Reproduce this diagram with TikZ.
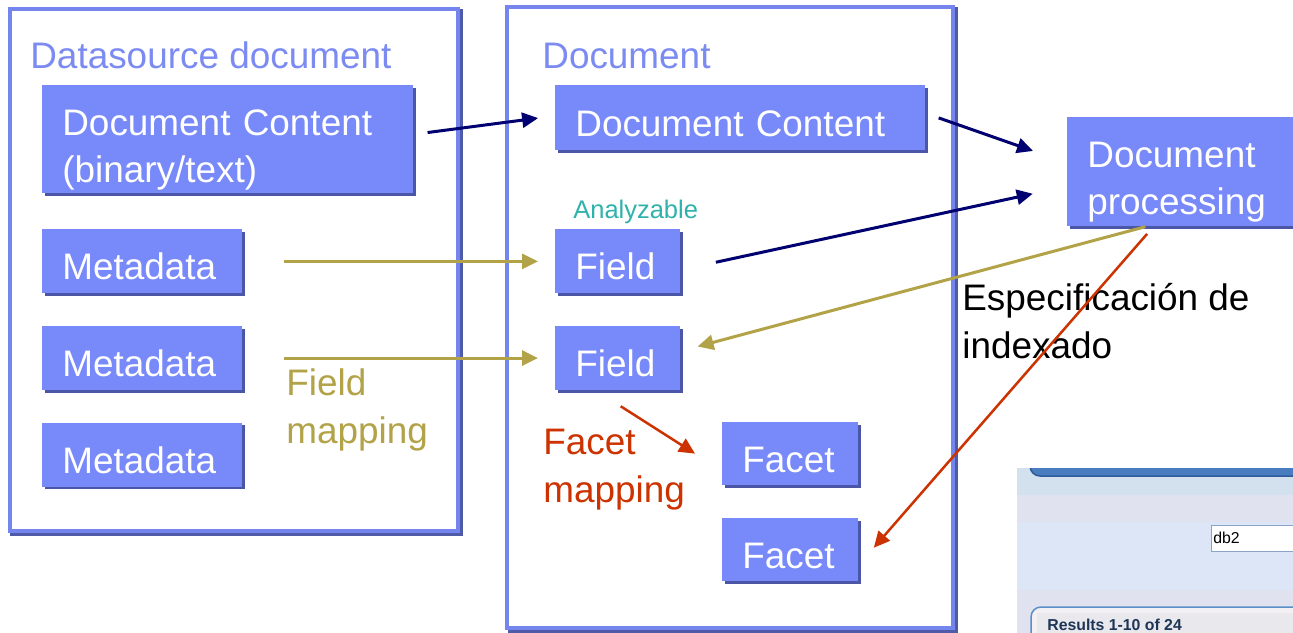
\documentclass[tikz,border=0pt]{standalone}
\usepackage{fontspec}
\setmainfont{Liberation Sans}
\usepackage{xcolor}
\usetikzlibrary{arrows.meta, positioning, shadows}

\definecolor{boxblue}{HTML}{7889F9}
\definecolor{boxshade}{HTML}{4B56A6}
\definecolor{framelight}{HTML}{7485EE}
\definecolor{frameshade}{HTML}{4F5AA8}
\definecolor{titleblue}{HTML}{7B8BF2}
\definecolor{navyarrow}{HTML}{000070}
\definecolor{olivemap}{HTML}{B2A248}
\definecolor{redmap}{HTML}{CC3300}
\definecolor{tealtxt}{HTML}{30B2AC}
\definecolor{shotbg}{HTML}{DEE5F3}
\definecolor{shotband}{HTML}{D3E0EE}
\definecolor{shotmid}{HTML}{E0E3EF}
\definecolor{shotlow}{HTML}{DCE6F7}
\definecolor{shotbar}{HTML}{4A7CC0}
\definecolor{shotbarline}{HTML}{2D5C9A}
\definecolor{inputline}{HTML}{8AA4C8}
\definecolor{panelbg}{HTML}{F2F0F2}
\definecolor{panelline}{HTML}{5B8DC6}
\definecolor{panelhead}{HTML}{E9E8EC}
\definecolor{resultstxt}{HTML}{1D3557}

\newcommand{\bigtxt}{\fontsize{21}{27}\selectfont}

\begin{document}
\begin{tikzpicture}[x=0.2mm, y=-0.2mm, node distance=6.4mm,
    frame/.style={draw=framelight, line width=0.8mm, fill=white, inner sep=0pt, general shadow={draw=frameshade, line width=0.8mm, shadow xshift=0.5mm, shadow yshift=-0.5mm}},
    block/.style={fill=boxblue, text=white, font=\bigtxt, align=left, inner xsep=4mm, anchor=north west, text height=21pt, text depth=0pt, general shadow={fill=boxshade, shadow xshift=0.5mm, shadow yshift=-0.5mm}},
    title/.style={text=titleblue, font=\bigtxt, inner sep=0pt, anchor=base west},
    maplabel/.style={font=\bigtxt, align=left, inner sep=0pt, anchor=base west},
    link/.style={line width=0.6mm, -{Triangle[length=3.2mm, width=3mm]}}]

        \useasboundingbox (0,0) rectangle (1293,633);
        \clip (0,0) rectangle (1293,633);
        \fill[white] (0,0) rectangle (1293,633);

        % frames
        \node[frame, minimum width=89.6mm, minimum height=104.4mm] (srcframe) at (234,270) {};
        \node[frame, minimum width=89.2mm, minimum height=124.2mm] (docframe) at (730,317.5) {};

        \node[title] (srctitle) at (30,68) {Datasource document};
        \node[title] (doctitle) at (542,68) {Document};

        % datasource side
        \node[block, text width=66.2mm, text height=10mm, text depth=11.6mm, inner ysep=0pt] (dcsrc) at (42,85) {Document Content\\(binary/text)};
        \node[block, text width=32mm, minimum height=12.8mm] (meta1) at (42,229) {Metadata};
        \node[block, text width=32mm, minimum height=12.8mm, below=of meta1] (meta2) {Metadata};
        \node[block, text width=32mm, minimum height=12.8mm, below=of meta2] (meta3) {Metadata};

        % document side
        \node[block, text width=66mm, minimum height=13mm] (dcdoc) at (555,85) {Document Content};
        \node[inner sep=0pt, anchor=base west, text=tealtxt, font=\fontsize{14.5}{17}\selectfont] (analyz) at (573,218) {Analyzable};
        \node[block, text width=17mm, minimum height=12.8mm] (field1) at (555,229) {Field};
        \node[block, text width=17mm, minimum height=12.8mm, below=of field1] (field2) {Field};
        \node[block, text width=19.2mm, minimum height=12.6mm] (facet1) at (722,422) {Facet};
        \node[block, text width=19.2mm, minimum height=12.6mm, below=of facet1] (facet2) {Facet};

        \node[block, text width=37.2mm, text height=10mm, text depth=11.8mm, inner ysep=0pt] (proc) at (1067,117) {Document\\processing};

        % labels
        \node[maplabel, text=olivemap] (fieldmap) at (286,443) {Field\\mapping};
        \node[maplabel, text=redmap] (facetmap) at (543,502) {Facet\\mapping};
        \node[maplabel, text=black] (indexspec) at (962,358) {Especificación de\\indexado};

        % connectors
        \draw[link, navyarrow, shorten <=2.8mm, shorten >=3.4mm] ([yshift=1mm]dcsrc.east) -- ([yshift=0.4mm]dcdoc.west);
        \draw[link, navyarrow, shorten <=2.75mm, shorten >=7.2mm] ([yshift=0.9mm]dcdoc.east) -- ([yshift=1.8mm]proc.west);
        \draw[link, navyarrow, shorten <=7.2mm, shorten >=7mm] ([yshift=-1.7mm]field1.east) -- ([yshift=-2.9mm]proc.west);
        \draw[link, olivemap, shorten <=8.2mm, shorten >=3.4mm] (meta1.east) -- (field1.west);
        \draw[link, olivemap, shorten <=8.2mm, shorten >=3.4mm] (meta2.east) -- (field2.west);
        \draw[link, olivemap, shorten >=3.5mm] ([xshift=-7mm]proc.south) -- ([yshift=1.4mm]field2.east);
        \draw[link, redmap, line width=0.5mm, shorten <=5.9mm, shorten >=6.4mm] ([xshift=-4.4mm]field2.south) -- ([yshift=-3.4mm]facet1.west);
        \draw[link, redmap, line width=0.5mm, shorten <=1.9mm, shorten >=4.6mm] ([xshift=-5.4mm]proc.south) -- ([yshift=-3.1mm]facet2.east);

        % screenshot corner
        \begin{scope}
            \clip (1017,468) rectangle (1293,633);
            \fill[shotbg] (1017,468) rectangle (1293,633);
            \fill[shotband] (1017,468) rectangle (1293,495);
            \fill[shotmid] (1017,495) rectangle (1293,522);
            \fill[shotlow] (1017,522) rectangle (1293,590);
            \fill[shotmid] (1017,590) rectangle (1293,633);
            \draw[fill=shotbar, draw=shotbarline, line width=0.3mm, rounded corners=2mm] (1030,440) rectangle (1310,476);
            \draw[fill=white, draw=inputline, line width=0.2mm] (1211,525) rectangle (1300,551);
            \node[anchor=west, inner sep=0pt, font=\fontsize{9}{10}\selectfont] (dbtext) at (1213,538) {db2};
            \draw[fill=panelbg, draw=panelline, line width=0.3mm, rounded corners=2mm] (1031,607) rectangle (1310,680);
            \fill[panelhead] (1037,613) rectangle (1310,680);
            \node[anchor=base west, inner sep=0pt, text=resultstxt, font=\bfseries\fontsize{9}{10}\selectfont] (results) at (1047,630) {Results 1-10 of 24};
        \end{scope}

\end{tikzpicture}
\end{document}
